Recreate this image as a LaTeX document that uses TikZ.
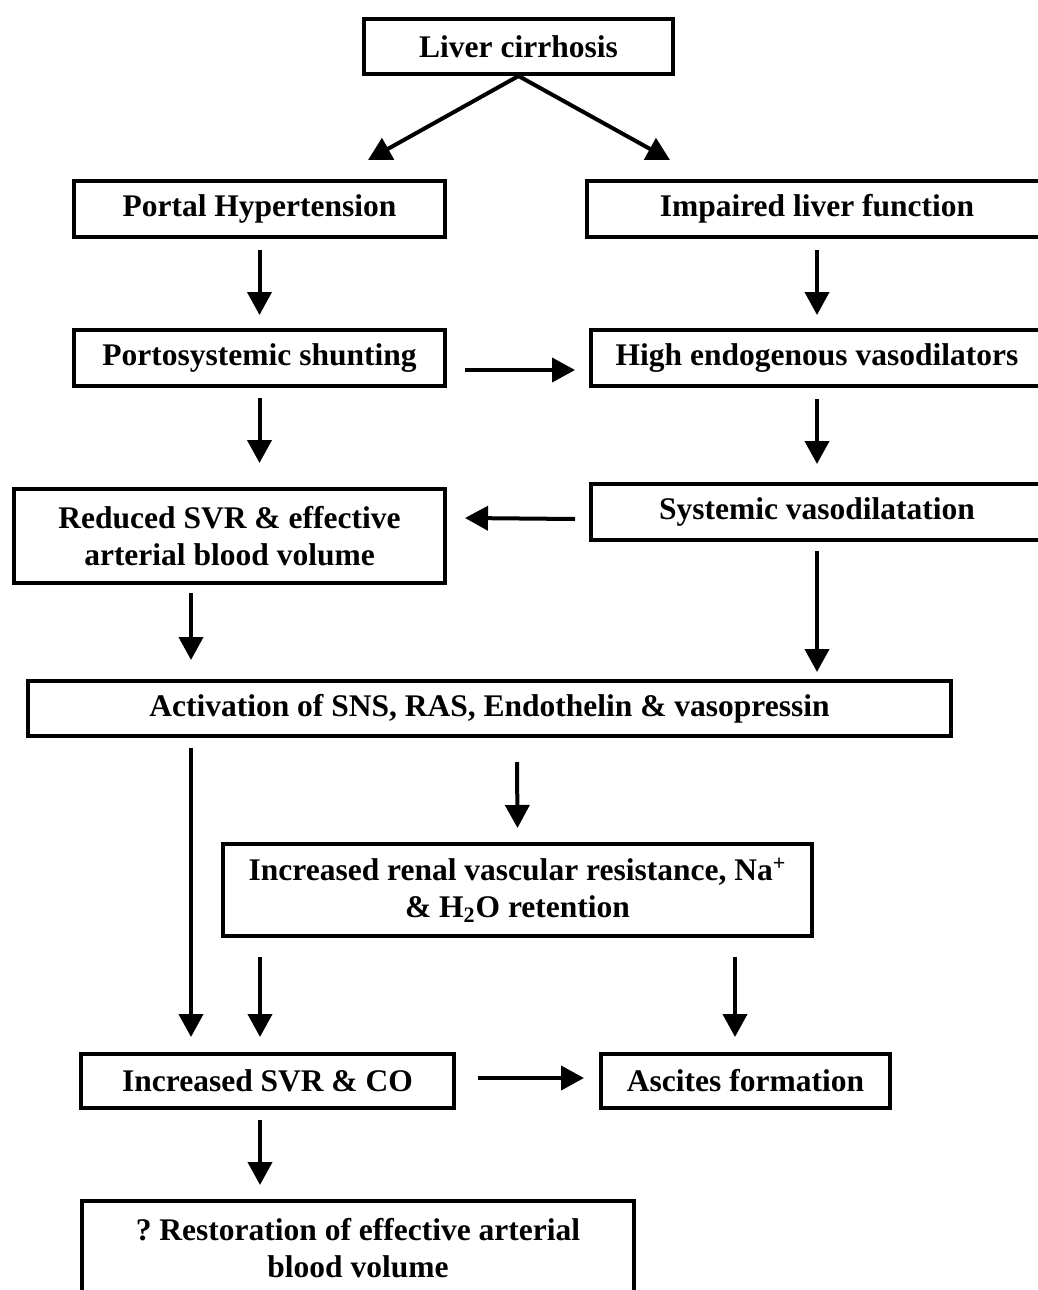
\documentclass[tikz,border=0pt]{standalone}
\usepackage{fontspec}
\setmainfont{Liberation Serif}
\usepackage{tikz}
\usetikzlibrary{arrows.meta, positioning}

\begin{document}
\begin{tikzpicture}[
  box/.style={draw, line width=2pt, inner sep=0pt, minimum height=28pt, align=center, font=\fontsize{15.75pt}{18.5pt}\selectfont\bfseries},
  tallbox/.style={box, minimum height=47pt},
  arr/.style={-{Triangle[length=11.5pt, width=12pt]}, line width=2pt},
  node distance=45pt
]
  \useasboundingbox (0,0) rectangle (519pt,-645pt);

  % Top
  \node[box, minimum width=154.5pt, minimum height=27.5pt] (liver) at (259.25pt,-23.25pt) {Liver cirrhosis};

  % Left and right branch
  \node[box, minimum width=185.5pt, below=51.5pt of liver, xshift=-129.5pt] (portal) {Portal Hypertension};
  \node[box, minimum width=230pt, right=69pt of portal] (impaired) {Impaired liver function};

  \node[box, minimum width=185.5pt, below=44.5pt of portal] (shunt) {Portosystemic shunting};
  \node[box, minimum width=226pt, right=71pt of shunt] (high) {High endogenous vasodilators};

  \node[tallbox, minimum width=215.5pt, below=49.5pt of shunt, xshift=-15pt] (reduced) {Reduced SVR \& effective\\arterial blood volume};
  \node[box, minimum width=226pt, below=47pt of high] (systemic) {Systemic vasodilatation};

  % Activation
  \node[box, minimum width=461.5pt, minimum height=27.5pt, below=47pt of reduced, xshift=130pt] (activation) {Activation of SNS, RAS, Endothelin \& vasopressin};
  \node[tallbox, minimum width=294.5pt, minimum height=46pt, below=52pt of activation, xshift=14pt] (renal) {Increased renal vascular resistance, Na\textsuperscript{+}\\\& H\textsubscript{2}O retention};

  % Outcome
  \node[box, minimum width=186.5pt, minimum height=27pt, below=57pt of renal, xshift=-125pt] (svrco) {Increased SVR \& CO};
  \node[box, minimum width=144.5pt, minimum height=27pt, right=71.5pt of svrco] (ascites) {Ascites formation};
  \node[tallbox, minimum width=276pt, minimum height=47.5pt, below=44.5pt of svrco, xshift=45.25pt] (restore) {?\ Restoration of effective arterial\\blood volume};

  % Arrows
  \draw[arr] (liver.south) -- ([xshift=54.25pt, yshift=9.5pt]portal.north);
  \draw[arr] (liver.south) -- ([xshift=-73.5pt, yshift=9.5pt]impaired.north);
  \draw[arr] ([yshift=-5.5pt]portal.south) -- ([yshift=6.5pt]shunt.north);
  \draw[arr] ([yshift=-5.5pt]impaired.south) -- ([yshift=6.5pt]high.north);
  \draw[arr] ([xshift=9pt, yshift=-6pt]shunt.east) -- ([xshift=-7pt, yshift=-6pt]high.west);
  \draw[arr] ([yshift=-5pt]shunt.south) -- ([xshift=15pt, yshift=12pt]reduced.north);
  \draw[arr] ([yshift=-5.5pt]high.south) -- ([yshift=9pt]systemic.north);
  \draw[arr] ([xshift=-7pt, yshift=-3.5pt]systemic.west) -- ([xshift=9pt, yshift=9pt]reduced.east);
  \draw[arr] ([xshift=-19.25pt, yshift=-4pt]reduced.south) -- ([xshift=-149.25pt, yshift=9.5pt]activation.north);
  \draw[arr] ([yshift=-4.5pt]systemic.south) -- ([xshift=163.75pt, yshift=3.5pt]activation.north);
  \draw[arr] ([xshift=-149.25pt, yshift=-5pt]activation.south) -- ([xshift=-38.25pt, yshift=7.5pt]svrco.north);
  \draw[arr] ([xshift=13.75pt, yshift=-12pt]activation.south) -- ([yshift=7pt]renal.north);
  \draw[arr] ([xshift=-128.75pt, yshift=-9.5pt]renal.south) -- ([xshift=-3.75pt, yshift=7.5pt]svrco.north);
  \draw[arr] ([xshift=108.75pt, yshift=-9.5pt]renal.south) -- ([xshift=-5.25pt, yshift=7.5pt]ascites.north);
  \draw[arr] ([xshift=11pt, yshift=1.5pt]svrco.east) -- ([xshift=-7.5pt, yshift=1.5pt]ascites.west);
  \draw[arr] ([xshift=-3.75pt, yshift=-5pt]svrco.south) -- ([xshift=-49pt, yshift=7pt]restore.north);
\end{tikzpicture}
\end{document}
